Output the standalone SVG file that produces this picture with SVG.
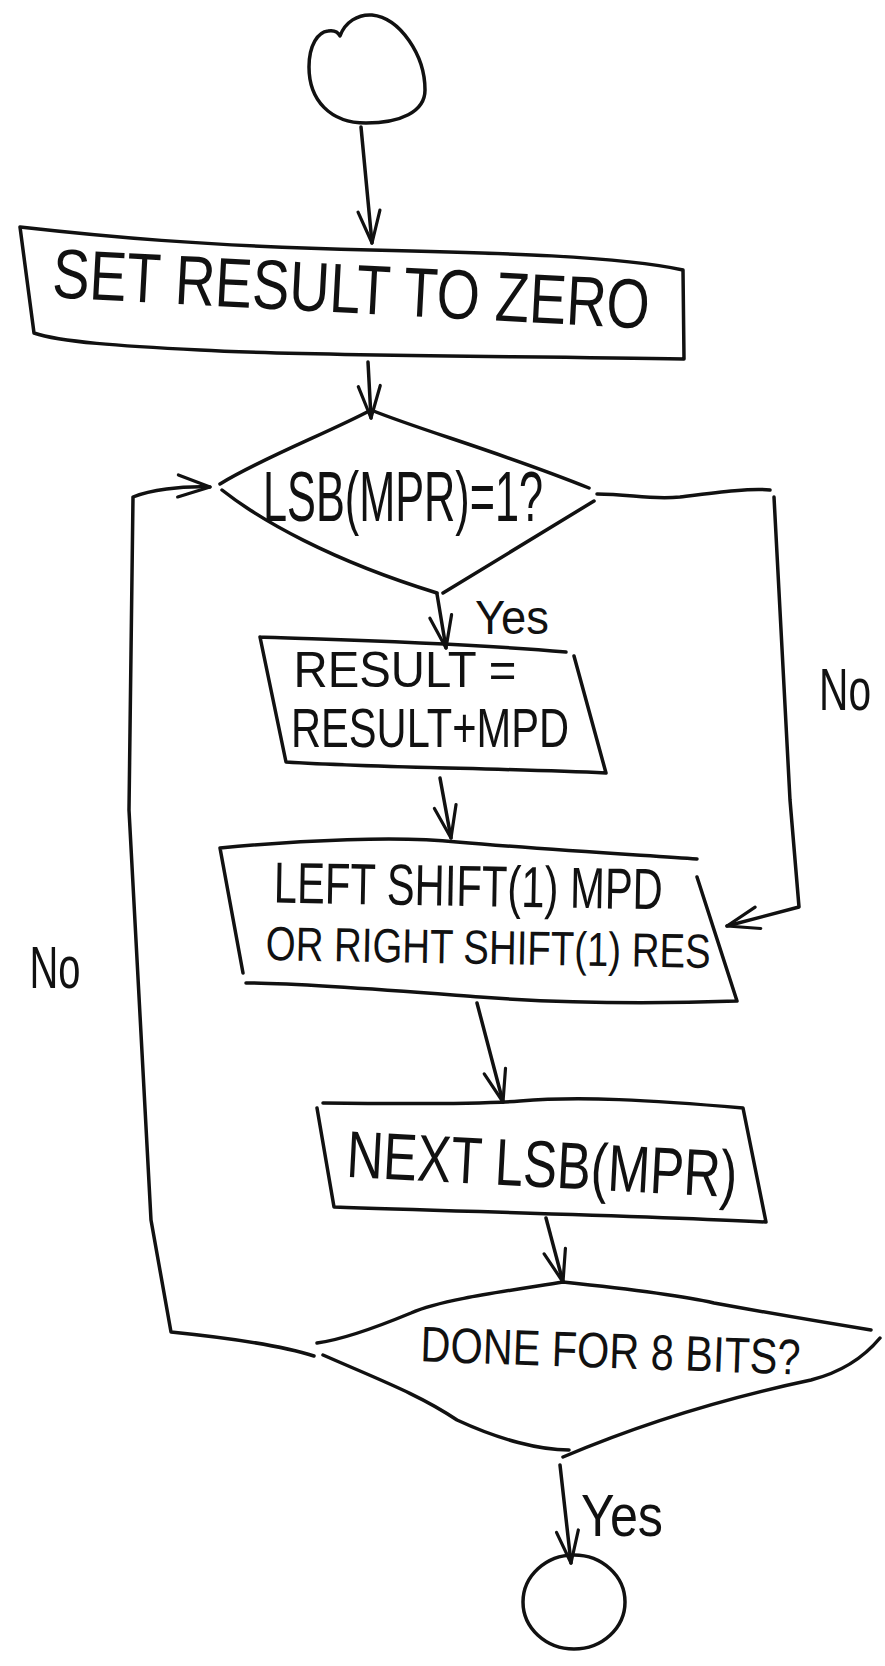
<svg xmlns="http://www.w3.org/2000/svg" width="885" height="1666" viewBox="0 0 885 1666">
<style>
.ln{fill:none;stroke:#111;stroke-width:3.5;stroke-linecap:round;stroke-linejoin:round}
.ar{marker-end:url(#v)}
text{font-family:"Liberation Sans Narrow","Liberation Sans",Arial,sans-serif;fill:#111}
</style>
<defs>
<marker id="v" viewBox="0 0 38 28" refX="35" refY="14" markerWidth="38" markerHeight="28" markerUnits="userSpaceOnUse" orient="auto">
<path d="M3 3 L35 14 L3 25" fill="none" stroke="#111" stroke-width="3.2" stroke-linecap="round" stroke-linejoin="round"/>
</marker>
</defs>
<rect width="885" height="1666" fill="#fff"/>

<g id="start">
<path class="ln" d="M340 36 C345 22,358 14,372 15 C400 18,425 55,425 90 C425 112,400 123,366 123 C330 123,309 100,309 67 C309 45,318 32,328 31 C334 30,338 32,340 36 Z"/>
</g>

<g id="set-result">
<path class="ln" d="M20 227 C100 236,200 246,371 250 C500 253,620 256,683 270 L684 359 C500 356,300 356,200 350 C120 346,60 342,34 333 Z"/>
<text x="350" y="313" font-size="70" text-anchor="middle" textLength="598" lengthAdjust="spacingAndGlyphs" transform="rotate(3 350 313)">SET RESULT TO ZERO</text>
</g>

<g id="check-lsb">
<path class="ln" d="M371 410 C330 432,262 458,220 484 M222 490 C260 520,330 560,437 593 M443 593 L594 501 M371 410 C420 430,500 452,589 488"/>
<text x="403" y="521" font-size="70" text-anchor="middle" textLength="280" lengthAdjust="spacingAndGlyphs">LSB(MPR)=1?</text>
</g>

<g id="add-mpd">
<path class="ln" d="M260 637 C340 640,450 642,566 652 M574 656 L606 773 C500 768,380 768,286 762 L260 637"/>
<text x="405" y="687" font-size="50" text-anchor="middle" textLength="223" lengthAdjust="spacingAndGlyphs">RESULT =</text>
<text x="430" y="747" font-size="56" text-anchor="middle" textLength="278" lengthAdjust="spacingAndGlyphs">RESULT+MPD</text>
</g>

<g id="shift">
<path class="ln" d="M220 848 C300 840,400 836,457 842 C550 850,640 855,697 859 M697 877 L737 1001 C650 1004,560 1003,480 997 C400 991,300 983,246 983 M243 973 L220 848"/>
<text x="468" y="906" font-size="58" text-anchor="middle" textLength="389" lengthAdjust="spacingAndGlyphs" transform="rotate(1 468 906)">LEFT SHIFT(1) MPD</text>
<text x="488" y="964" font-size="48" text-anchor="middle" textLength="445" lengthAdjust="spacingAndGlyphs" transform="rotate(1 488 964)">OR RIGHT SHIFT(1) RES</text>
</g>

<g id="next-lsb">
<path class="ln" d="M323 1103 C400 1104,480 1104,520 1101 C580 1096,650 1100,743 1108 L766 1222 C650 1216,480 1212,334 1207 L317 1108"/>
<text x="541" y="1187" font-size="66" text-anchor="middle" textLength="391" lengthAdjust="spacingAndGlyphs" transform="rotate(3 541 1187)">NEXT LSB(MPR)</text>
</g>

<g id="done-check">
<path class="ln" d="M563 1282 C500 1292,440 1300,411 1313 C370 1330,340 1340,317 1343 M323 1355 C380 1380,420 1395,457 1420 C500 1440,540 1450,569 1450 M563 1457 C650 1420,740 1395,811 1380 C850 1370,870 1350,880 1338 M563 1282 C620 1288,680 1295,714 1303 C780 1315,840 1325,871 1330"/>
<text x="610" y="1368" font-size="50" text-anchor="middle" textLength="380" lengthAdjust="spacingAndGlyphs" transform="rotate(2 610 1368)">DONE FOR 8 BITS?</text>
</g>

<g id="end">
<ellipse class="ln" cx="574" cy="1602" rx="51" ry="47"/>
</g>

<g id="connectors">
<path class="ln ar" d="M361 127 L372 243"/>
<path class="ln ar" d="M368 362 L371 418"/>
<path class="ln ar" d="M314 1356 C280 1345,230 1338,171 1332 L151 1220 L129 810 L133 497 C150 490,180 486,210 487"/>
<path class="ln ar" d="M437 594 L446 648"/>
<path class="ln ar" d="M597 494 C630 494,650 500,680 497 C720 492,750 488,770 490 M774 497 L790 800 L799 907 L727 926"/>
<path class="ln ar" d="M440 778 L451 838"/>
<path class="ln ar" d="M477 1003 L503 1102"/>
<path class="ln ar" d="M546 1218 L563 1282"/>
<path class="ln ar" d="M560 1465 L571 1563"/>
</g>

<g id="labels">
<text x="512" y="634" font-size="48" text-anchor="middle" textLength="74" lengthAdjust="spacingAndGlyphs">Yes</text>
<text x="0" y="0" font-size="46" text-anchor="middle" textLength="52" lengthAdjust="spacingAndGlyphs" transform="translate(845 710) scale(1 1.3)">No</text>
<text x="0" y="0" font-size="46" text-anchor="middle" textLength="51" lengthAdjust="spacingAndGlyphs" transform="translate(55 988) scale(1 1.3)">No</text>
<text x="622" y="1536" font-size="60" text-anchor="middle" textLength="82" lengthAdjust="spacingAndGlyphs">Yes</text>
</g>
</svg>
